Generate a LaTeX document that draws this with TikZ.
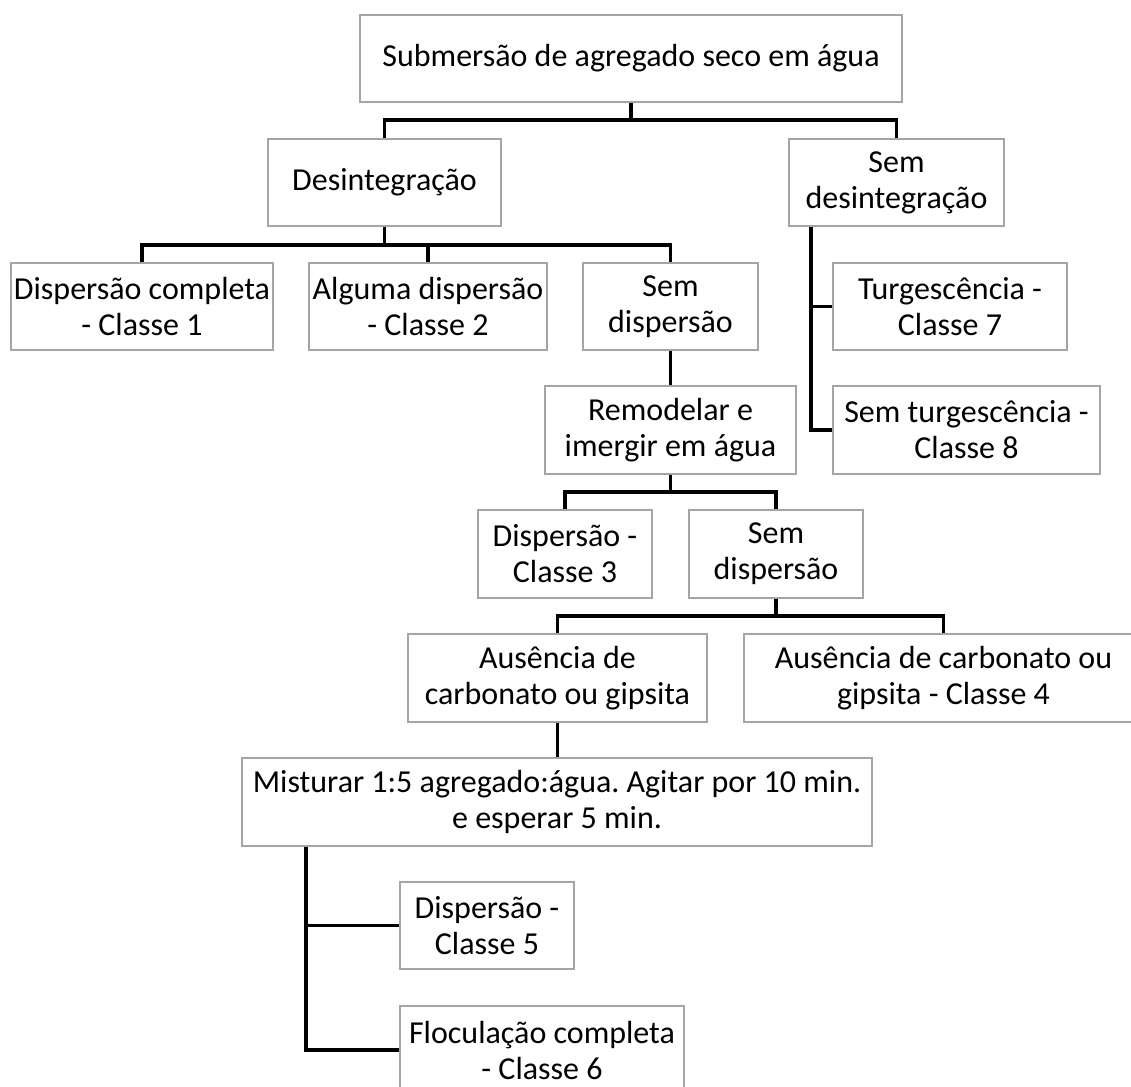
\documentclass[tikz,border=0pt]{standalone}
\usepackage{fontspec}
\setmainfont{Carlito}
\frenchspacing
\definecolor{boxgray}{RGB}{165,165,165}
\begin{document}
\begin{tikzpicture}[x=0.75pt,y=-0.75pt,
  box/.style 2 args={draw=boxgray,line width=1.1pt,fill=white,
    minimum width=#1*0.75pt,minimum height=#2*0.75pt,inner sep=0pt,
    align=center,font=\fontsize{24}{27}\selectfont},
  link/.style={line width=2.3pt,black}]
\useasboundingbox (0,0) rectangle (1131,1086);
\clip (0,0) rectangle (1131,1086);

% boxes
\node[box={542}{87}] (top) at (631,58.5) {Submersão de agregado seco em água};
\node[box={233}{87}] (des) at (384.5,182.5) {Desintegração};
\node[box={215}{87}] (semdes) at (896.5,182.5) {Sem\\desintegração};
\node[box={262}{87}] (c1) at (142,306.5) {Dispersão completa\\- Classe 1};
\node[box={238}{87}] (c2) at (428,306.5) {Alguma dispersão\\- Classe 2};
\node[box={175}{87}] (sd1) at (670.5,306.5) {Sem\\dispersão};
\node[box={234}{87}] (c7) at (950,306.5) {Turgescência -\\Classe 7};
\node[box={251}{88}] (rem) at (670.5,430) {Remodelar e\\imergir em água};
\node[box={267}{88}] (c8) at (966.5,430) {Sem turgescência -\\Classe 8};
\node[box={174}{88}] (c3) at (565,554) {Dispersão -\\Classe 3};
\node[box={174}{88}] (sd2) at (776,554) {Sem\\dispersão};
\node[box={299}{88}] (aus) at (557.5,678) {Ausência de\\carbonato ou gipsita};
\node[box={399}{88}] (c4) at (943.5,678) {Ausência de carbonato ou\\gipsita - Classe 4};
\node[box={630}{88}] (mix) at (557,802) {Misturar 1:5 agregado:água. Agitar por 10 min.\\e esperar 5 min.};
\node[box={174}{87}] (c5) at (487,925.5) {Dispersão -\\Classe 5};
\node[box={284}{88}] (c6) at (542,1050) {Floculação completa\\- Classe 6};

% tree connectors through horizontal buses
\draw[link] (top.south) -- (top.south |- 0,120);
\draw[link] (des.north) |- (semdes.north |- 0,120) -- (semdes.north);
\draw[link] (des.south) -- (des.south |- 0,245);
\draw[link] (c1.north) |- (sd1.north |- 0,245) -- (sd1.north);
\draw[link] (c2.north) -- (c2.north |- 0,245);
\draw[link] (sd1.south) -- (rem.north);
\draw[link] (rem.south) -- (rem.south |- 0,492);
\draw[link] (c3.north) |- (sd2.north |- 0,492) -- (sd2.north);
\draw[link] (sd2.south) -- (sd2.south |- 0,616);
\draw[link] (aus.north) |- (c4.north |- 0,616) -- (c4.north);
\draw[link] (aus.south) -- (aus.south |- mix.north);
% side branches
\draw[link] (811,0 |- semdes.south) -- (811,0 |- c8.west) -- (c8.west);
\draw[link] (811,0 |- c7.west) -- (c7.west);
\draw[link] (306,0 |- mix.south) -- (306,0 |- c6.west) -- (c6.west);
\draw[link] (306,0 |- c5.west) -- (c5.west);
\end{tikzpicture}
\end{document}
